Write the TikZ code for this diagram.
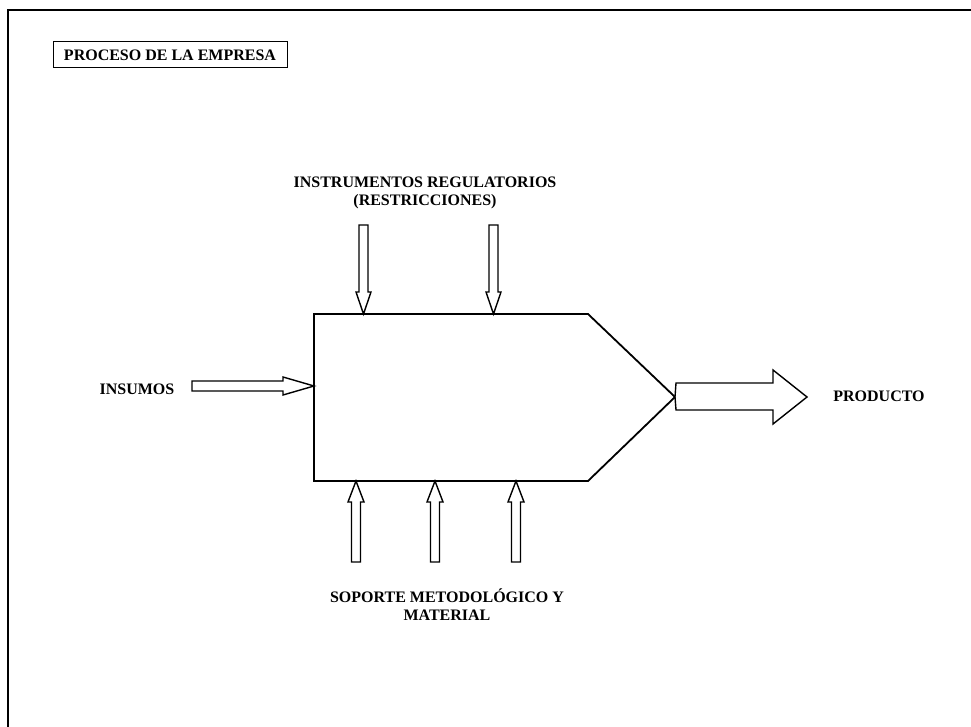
\documentclass[tikz,border=0pt]{standalone}
\usepackage{fontspec}
\setmainfont{Liberation Serif}

\tikzset{
  rotulo/.style={inner sep=0pt,align=center,font=\bfseries\fontsize{16}{18}\selectfont},
  contorno/.style={line width=1.8pt,line join=miter},
  flecha/.style={line width=1.4pt,line join=miter,fill=white}
}

\begin{document}
\begin{tikzpicture}[x=1pt,y=1pt]
\path[use as bounding box] (0,0) rectangle (971,726);
% marco de la hoja
\draw[line width=2.4pt] (8,-20) -- (8,716) -- (990,716);
% titulo
\node[rotulo,draw,line width=1pt,minimum width=234pt,minimum height=26pt] (titulo) at (170,671) {PROCESO DE LA EMPRESA};
% proceso
\coordinate (pa) at (314,412);
\coordinate (pb) at (588,412);
\coordinate (pc) at (675,329);
\coordinate (pd) at (588,245);
\coordinate (pe) at (314,245);
\draw[contorno] (pa) -- (pb) -- (pc) -- (pd) -- (pe) -- cycle;
% instrumentos regulatorios
\node[rotulo] (instr) at (425,533) {INSTRUMENTOS REGULATORIOS\\(RESTRICCIONES)};
\draw[flecha] (359,501) -- (368,501) -- (368,434) -- (371,434) -- (363.5,412) -- (356,434) -- (359,434) -- cycle;
\draw[flecha] (489,501) -- (498,501) -- (498,434) -- (501,434) -- (493.5,412) -- (486,434) -- (489,434) -- cycle;
% insumos
\node[rotulo] (insumos) at (137,337) {INSUMOS};
\draw[flecha] (192,345) -- (283,345) -- (283,349) -- (314,340) -- (283,331) -- (283,335) -- (192,335) -- cycle;
% soporte
\node[rotulo] (soporte) at (447,121.5) {SOPORTE METODOL\'OGICO Y\\MATERIAL};
\draw[flecha] (351.5,164) -- (360.5,164) -- (360.5,224) -- (364,224) -- (356,245) -- (348,224) -- (351.5,224) -- cycle;
\draw[flecha] (430.5,164) -- (439.5,164) -- (439.5,224) -- (443,224) -- (435,245) -- (427,224) -- (430.5,224) -- cycle;
\draw[flecha] (511.5,164) -- (520.5,164) -- (520.5,224) -- (524,224) -- (516,245) -- (508,224) -- (511.5,224) -- cycle;
% producto
\draw[flecha] (pc) -- (676,343) -- (773,343) -- (773,356) -- (807,329) -- (773,302) -- (773,316) -- (676,316) -- cycle;
\node[rotulo] (producto) at (879,330) {PRODUCTO};
\end{tikzpicture}
\end{document}
